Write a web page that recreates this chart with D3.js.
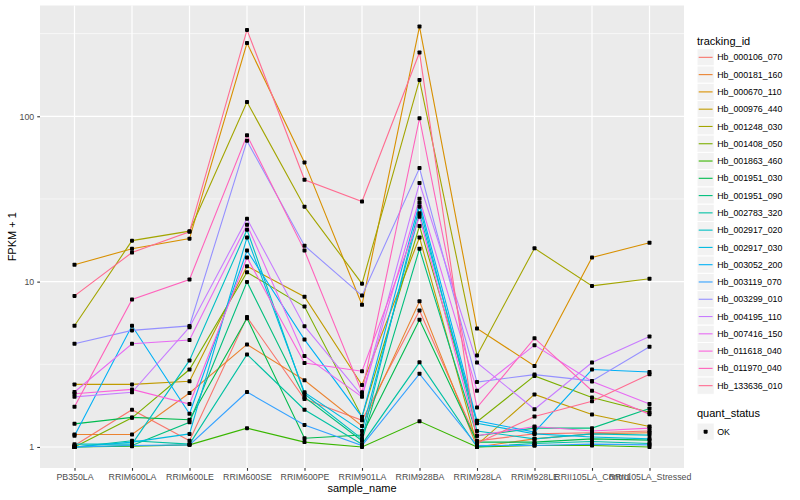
<!DOCTYPE html>
<html>
<head>
<meta charset="utf-8">
<script src="https://cdn.jsdelivr.net/npm/d3@7"></script>
<style>
  body { margin: 0; background: #fff; }
  svg { font-family: "Liberation Sans", Arial, sans-serif; }
</style>
</head>
<body>
<svg id="chart" width="800" height="500"></svg>
<script>
// x categories
const samples = ['PB350LA', 'RRIM600LA', 'RRIM600LE', 'RRIM600SE', 'RRIM600PE', 'RRIM901LA',
    'RRIM928BA', 'RRIM928LA', 'RRIM928LE', 'RRII105LA_Control', 'RRII105LA_Stressed'];

// FPKM + 1 per gene, one value per sample
const hb_000106_070 = [1.02, 1.68, 1.09, 6.1, 1.95, 1.45, 6.69, 1.09, 1.2, 1.22, 1.25];
const hb_000181_160 = [1.19, 1.19, 2.12, 4.17, 2.53, 1.34, 7.6, 1.0, 1.12, 1.2, 1.22];
const hb_000670_110 = [12.66, 15.8, 18.2, 277, 52.6, 7.24, 349, 5.21, 3.09, 14.0, 17.2];
const hb_000976_440 = [2.39, 2.39, 2.5, 12.4, 8.1, 2.37, 18.5, 1.03, 2.08, 1.57, 1.33];
const hb_001248_030 = [5.41, 17.7, 20.2, 122, 28.4, 9.72, 166, 3.58, 15.9, 9.42, 10.4];
const hb_001408_050 = [1.0, 1.5, 2.94, 11.4, 7.07, 1.52, 21.7, 1.42, 2.69, 1.99, 1.62];
const hb_001863_460 = [1.0, 1.01, 1.03, 1.30, 1.07, 1.0, 1.43, 1.0, 1.02, 1.02, 1.0];
const hb_001951_030 = [1.38, 1.51, 1.46, 6.0, 1.13, 1.18, 5.88, 1.07, 1.07, 1.12, 1.1];
const hb_001951_090 = [1.0, 1.02, 1.41, 9.96, 2.0, 1.09, 15.8, 1.17, 1.30, 1.30, 1.71];
const hb_002783_320 = [1.0, 1.09, 1.04, 3.63, 1.68, 1.04, 3.25, 1.0, 1.05, 1.08, 1.05];
const hb_002917_020 = [1.04, 1.04, 3.34, 20.6, 2.09, 1.12, 28.4, 1.25, 1.12, 1.2, 1.18];
const hb_002917_030 = [1.0, 1.07, 1.2, 18.5, 2.14, 1.25, 25.9, 1.39, 1.2, 1.15, 1.12];
const hb_003052_200 = [1.17, 5.41, 1.59, 15.4, 4.46, 1.52, 30.0, 1.44, 1.23, 2.94, 2.84];
const hb_003119_070 = [1.0, 1.02, 1.03, 2.15, 1.36, 1.02, 2.77, 1.02, 1.02, 1.04, 1.03];
const hb_003299_010 = [4.21, 5.07, 5.4, 71, 16.5, 8.23, 48.6, 2.47, 2.74, 2.51, 4.04];
const hb_004195_110 = [2.01, 2.14, 5.3, 24, 5.38, 2.04, 39.5, 3.24, 1.69, 3.24, 4.66];
const hb_007416_150 = [2.15, 4.21, 4.43, 22.1, 3.55, 2.01, 31.7, 2.19, 4.13, 2.49, 1.82];
const hb_011618_040 = [2.1, 2.23, 1.82, 14.0, 3.22, 2.87, 24.7, 1.17, 1.33, 1.25, 1.3];
const hb_011970_040 = [1.75, 7.8, 10.3, 76.8, 15.4, 2.14, 97.3, 1.73, 4.55, 2.19, 1.58];
const hb_133636_010 = [8.2, 15.0, 20.0, 333, 41.3, 30.5, 243, 1.05, 1.53, 1.89, 2.75];

const trackingIds = ['Hb_000106_070', 'Hb_000181_160', 'Hb_000670_110', 'Hb_000976_440',
    'Hb_001248_030', 'Hb_001408_050', 'Hb_001863_460', 'Hb_001951_030', 'Hb_001951_090',
    'Hb_002783_320', 'Hb_002917_020', 'Hb_002917_030', 'Hb_003052_200', 'Hb_003119_070',
    'Hb_003299_010', 'Hb_004195_110', 'Hb_007416_150', 'Hb_011618_040', 'Hb_011970_040',
    'Hb_133636_010'];
const seriesValues = [hb_000106_070, hb_000181_160, hb_000670_110, hb_000976_440,
    hb_001248_030, hb_001408_050, hb_001863_460, hb_001951_030, hb_001951_090,
    hb_002783_320, hb_002917_020, hb_002917_030, hb_003052_200, hb_003119_070,
    hb_003299_010, hb_004195_110, hb_007416_150, hb_011618_040, hb_011970_040,
    hb_133636_010];

const yTicks = [1, 10, 100];
const quantStatus = ['OK'];

// ggplot-like hue palette
const colors = ['#F8766D', '#EA8331', '#D89000', '#C09B00', '#A3A500', '#7CAE00', '#39B600',
    '#00BB4E', '#00BF7D', '#00C1A3', '#00BFC4', '#00BAE0', '#00B0F6', '#35A2FF', '#9590FF',
    '#C77CFF', '#E76BF3', '#FA62DB', '#FF62BC', '#FF6C91'];

const series = trackingIds.map((id, i) => ({
    id,
    color: colors[i],
    points: samples.map((s, j) => ({ sample: s, value: seriesValues[i][j] }))
}));

const svg = d3.select('#chart');
const panel = { left: 40, right: 684, top: 5.5, bottom: 468 };

const xScale = d3.scalePoint()
    .domain(samples)
    .range([panel.left, panel.right])
    .padding(0.6);

// log scale expanded 5% each side, as ggplot does
const allValues = seriesValues.flat();
const lo = Math.log10(d3.min(allValues)), hi = Math.log10(d3.max(allValues));
const pad = (hi - lo) * 0.05;
const yScale = d3.scaleLog()
    .domain([Math.pow(10, lo - pad), Math.pow(10, hi + pad)])
    .range([panel.bottom, panel.top]);

// Panel background
svg.append('rect')
    .attr('x', panel.left).attr('y', panel.top)
    .attr('width', panel.right - panel.left)
    .attr('height', panel.bottom - panel.top)
    .attr('fill', '#EBEBEB');

// Minor grid at half decades
const minor = [Math.sqrt(10), Math.sqrt(1000), Math.sqrt(100000)]
    .filter(v => yScale(v) > panel.top && yScale(v) < panel.bottom);
svg.append('g').selectAll('line')
    .data(minor).enter().append('line')
    .attr('x1', panel.left).attr('x2', panel.right)
    .attr('y1', d => yScale(d)).attr('y2', d => yScale(d))
    .attr('stroke', '#fff').attr('stroke-width', 0.6);

// Major grid
svg.append('g').selectAll('line')
    .data(yTicks).enter().append('line')
    .attr('x1', panel.left).attr('x2', panel.right)
    .attr('y1', d => yScale(d)).attr('y2', d => yScale(d))
    .attr('stroke', '#fff').attr('stroke-width', 1.2);
svg.append('g').selectAll('line')
    .data(samples).enter().append('line')
    .attr('y1', panel.top).attr('y2', panel.bottom)
    .attr('x1', d => xScale(d)).attr('x2', d => xScale(d))
    .attr('stroke', '#fff').attr('stroke-width', 1.2);

// Lines
const line = d3.line()
    .x(d => xScale(d.sample))
    .y(d => yScale(d.value));
svg.append('g').selectAll('path')
    .data(series).enter().append('path')
    .attr('d', d => line(d.points))
    .attr('fill', 'none')
    .attr('stroke', d => d.color)
    .attr('stroke-width', 1.1);

// Points
svg.append('g').selectAll('rect')
    .data(series.flatMap(s => s.points)).enter().append('rect')
    .attr('x', d => xScale(d.sample) - 2)
    .attr('y', d => yScale(d.value) - 2)
    .attr('width', 4).attr('height', 4)
    .attr('rx', 0.8)
    .attr('fill', '#000');

// Axes
const xAxis = d3.axisBottom(xScale).tickSize(2.75).tickPadding(3);
const gx = svg.append('g')
    .attr('transform', `translate(0,${panel.bottom})`)
    .call(xAxis);
const yAxis = d3.axisLeft(yScale).tickValues(yTicks).tickFormat(d3.format('d'))
    .tickSize(2.75).tickPadding(3);
const gy = svg.append('g')
    .attr('transform', `translate(${panel.left},0)`)
    .call(yAxis);
[gx, gy].forEach(g => {
    g.select('.domain').remove();
    g.selectAll('.tick line').attr('stroke', '#333333').attr('stroke-width', 1.1);
    g.selectAll('.tick text').attr('fill', '#4D4D4D').attr('font-size', 8.8)
        .attr('font-family', '"Liberation Sans", Arial, sans-serif');
});

svg.append('text')
    .attr('x', (panel.left + panel.right) / 2).attr('y', 492)
    .attr('text-anchor', 'middle').attr('font-size', 11)
    .text('sample_name');
svg.append('text')
    .attr('transform', `translate(16,${(panel.top + panel.bottom) / 2}) rotate(-90)`)
    .attr('text-anchor', 'middle').attr('font-size', 11)
    .text('FPKM + 1');

// Legend: tracking_id
const KEY = 17.28;
const legX = 697;
const leg = svg.append('g');
leg.append('text')
    .attr('x', legX).attr('y', 44.5)
    .attr('font-size', 11)
    .text('tracking_id');
const rows = leg.selectAll('g.row')
    .data(series).enter().append('g')
    .attr('class', 'row')
    .attr('transform', (d, i) => `translate(${legX},${48.7 + i * KEY})`);
rows.append('rect')
    .attr('width', KEY).attr('height', KEY)
    .attr('fill', '#F2F2F2').attr('stroke', '#fff').attr('stroke-width', 1);
rows.append('line')
    .attr('x1', 1.7).attr('x2', KEY - 1.7)
    .attr('y1', KEY / 2).attr('y2', KEY / 2)
    .attr('stroke', d => d.color).attr('stroke-width', 1.1);
rows.append('text')
    .attr('x', KEY + 3).attr('y', KEY / 2 + 3.1)
    .attr('font-size', 8.8)
    .text(d => d.id);

// Legend: quant_status
const qTop = 402;
leg.append('text')
    .attr('x', legX).attr('y', qTop + 15)
    .attr('font-size', 11)
    .text('quant_status');
const qRows = leg.selectAll('g.qrow')
    .data(quantStatus).enter().append('g')
    .attr('class', 'qrow')
    .attr('transform', (d, i) => `translate(${legX},${qTop + 21 + i * KEY})`);
qRows.append('rect')
    .attr('width', KEY).attr('height', KEY)
    .attr('fill', '#F2F2F2').attr('stroke', '#fff').attr('stroke-width', 1);
qRows.append('rect')
    .attr('x', KEY / 2 - 2).attr('y', KEY / 2 - 2)
    .attr('width', 4).attr('height', 4).attr('rx', 0.8)
    .attr('fill', '#000');
qRows.append('text')
    .attr('x', KEY + 3).attr('y', KEY / 2 + 3.1)
    .attr('font-size', 8.8)
    .text(d => d);
</script>
</body>
</html>
